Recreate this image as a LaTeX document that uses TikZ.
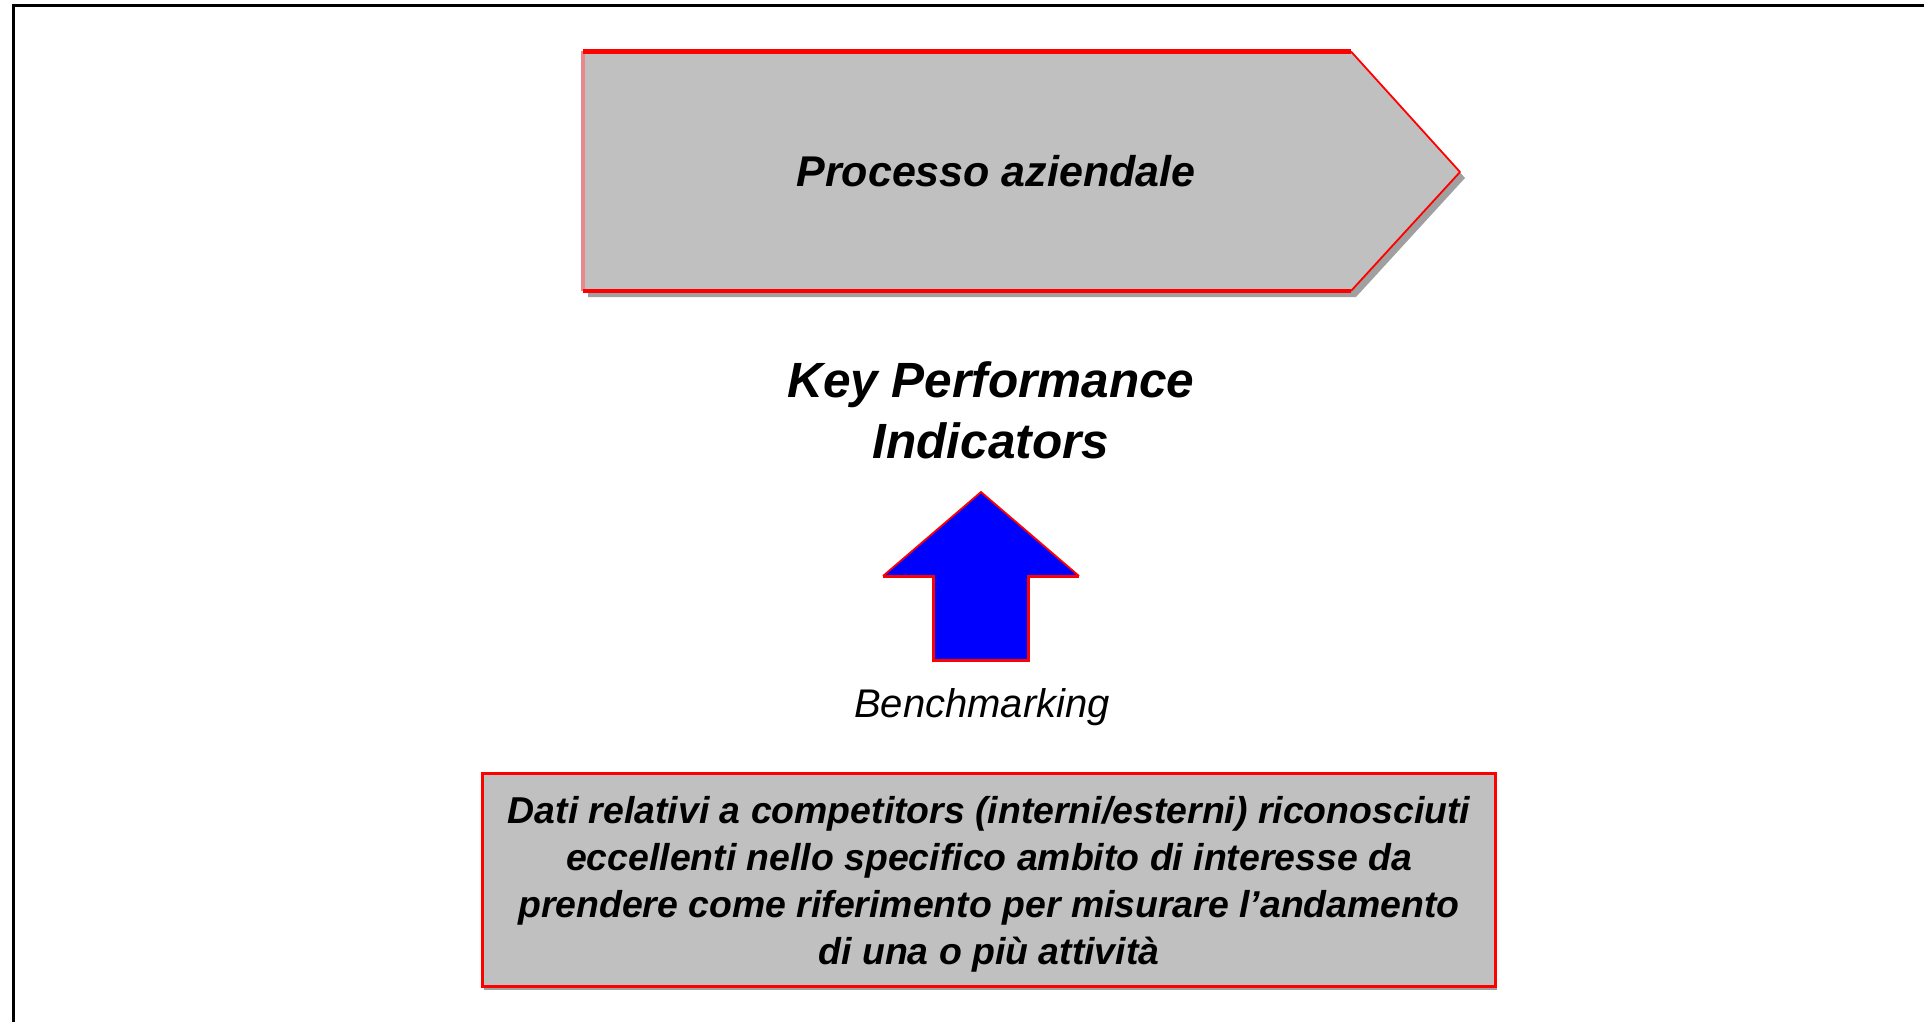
\documentclass[tikz,border=0pt]{standalone}
\usepackage{fontspec}
\setmainfont{Liberation Sans}
\definecolor{boxgray}{HTML}{C0C0C0}
\definecolor{shadowgray}{HTML}{A0A0A0}
\definecolor{pinkedge}{HTML}{E88888}
\definecolor{pureblue}{HTML}{0000FF}
\definecolor{purered}{HTML}{FF0000}
\begin{document}
\begin{tikzpicture}[x=0.5pt,y=-0.5pt,
  frameline/.style={line width=1.6pt,black},
  redthick/.style={line width=2.1pt,purered},
  redthin/.style={line width=0.9pt,purered},
  plaintext/.style={inner sep=0pt,anchor=base,text=black}]
\useasboundingbox (0,0) rectangle (1924,1022);
\fill[white] (0,0) rectangle (1924,1022);
% frame (top and left edges)
\draw[frameline] (13.5,1030) -- (13.5,5.5) -- (1930,5.5);
% process pentagon
\coordinate (pA) at (583,51.5);
\coordinate (pB) at (1351,51.5);
\coordinate (pT) at (1460,172);
\coordinate (pC) at (1351,291);
\coordinate (pD) at (583,291);
\fill[shadowgray] ([shift={(5,6)}]pA) -- ([shift={(5,6)}]pB) -- ([shift={(5,6)}]pT) -- ([shift={(5,6)}]pC) -- ([shift={(5,6)}]pD) -- cycle;
\fill[boxgray] (pA) -- (pB) -- (pT) -- (pC) -- (pD) -- cycle;
\draw[line width=1.6pt,pinkedge] (pD) -- (pA);
\draw[redthick] (pA) -- (pB);
\draw[redthick] (pC) -- (pD);
\draw[redthin,line join=round] (pB) -- (pT) -- (pC);
\node[plaintext,font=\fontsize{21.5}{26}\selectfont\bfseries\itshape] (proc) at (996,186) {Processo aziendale};
% KPI (base anchor = last line's baseline)
\node[plaintext,align=center,font=\fontsize{24.75}{30.5}\selectfont\bfseries\itshape] (kpi) at (991,458) {Key Performance\\Indicators};
% block arrow
\coordinate (aT) at (981,492);
\coordinate (aR) at (1079,576);
\coordinate (sR) at (1028,576);
\coordinate (bR) at (1028,660);
\coordinate (bL) at (933,660);
\coordinate (sL) at (933,576);
\coordinate (aL) at (883,576);
\fill[pureblue] (aT) -- (aR) -- (sR) -- (bR) -- (bL) -- (sL) -- (aL) -- cycle;
\draw[redthin,line join=miter] (aL) -- (aT) -- (aR);
\draw[line width=1.5pt,purered,line join=miter] (aR) -- (sR) -- (bR) -- (bL) -- (sL) -- (aL);
\node[plaintext,font=\fontsize{20}{24}\selectfont\itshape] (bench) at (982,717) {Benchmarking};
% data box
\coordinate (dA) at (482,773);
\coordinate (dB) at (1495,986);
\fill[shadowgray] ([shift={(2,4)}]dA) rectangle ([shift={(2,4)}]dB);
\draw[line width=1.5pt,purered,fill=boxgray] (dA) rectangle (dB);
\node[plaintext,align=center,font=\fontsize{18.7}{23.5}\selectfont\bfseries\itshape] (dati) at (989,964) {Dati relativi a competitors (interni/esterni) riconosciuti\\eccellenti nello specifico ambito di interesse da\\prendere come riferimento per misurare l’andamento\\di una o più attività};
\end{tikzpicture}
\end{document}
